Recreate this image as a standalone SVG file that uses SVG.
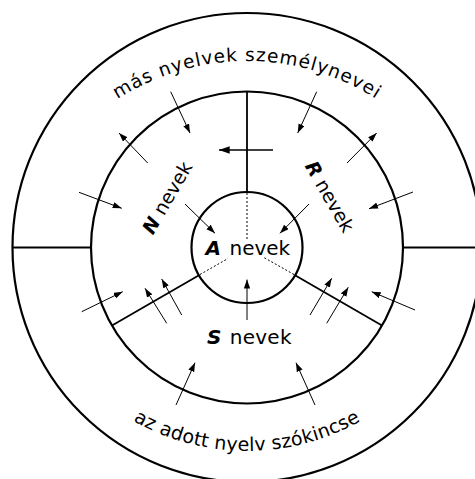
<svg xmlns="http://www.w3.org/2000/svg" width="475" height="479" viewBox="0 0 475 479">
<style>
.ring{fill:none;stroke:#000;stroke-width:2.2}
.div{stroke:#000;stroke-width:1.8;fill:none}
.dot{stroke:#000;stroke-width:1;stroke-dasharray:2,2;fill:none}
.arr{stroke:#000;stroke-width:1;fill:none;marker-end:url(#ah)}
.arrb{stroke:#000;stroke-width:1.3;fill:none;marker-end:url(#ahb)}
text{font-family:"DejaVu Sans","Liberation Sans",sans-serif;fill:#000}
.bi{font-weight:bold;font-style:italic}
</style>
<defs>
<marker id="ah" viewBox="0 0 10 7" refX="10" refY="3.5" markerWidth="9" markerHeight="6.5" markerUnits="userSpaceOnUse" orient="auto"><path d="M0,0 L10,3.5 L0,7 z" fill="#000"/></marker>
<marker id="ahb" viewBox="0 0 10 7" refX="10" refY="3.5" markerWidth="11" markerHeight="7.5" markerUnits="userSpaceOnUse" orient="auto"><path d="M0,0 L10,3.5 L0,7 z" fill="#000"/></marker>
<path id="topArc" d="M8,300 A239,239 0 0 1 486,300"/>
<path id="botArc" d="M17,221 A230,230 0 0 0 477,221"/>
</defs>
<rect width="475" height="479" fill="#fff"/>
<g id="outer-ring">
<circle class="ring" cx="247" cy="247.5" r="234.5"/>
<text font-size="18.5" letter-spacing="1"><textPath href="#topArc" startOffset="50%" text-anchor="middle">más nyelvek személynevei</textPath></text>
<text font-size="19" letter-spacing="0.2"><textPath href="#botArc" startOffset="50%" text-anchor="middle">az adott nyelv szókincse</textPath></text>
</g>
<g id="middle-ring">
<circle class="ring" cx="247" cy="247.5" r="156" stroke-width="2.5"/>
<text font-size="19" text-anchor="middle" transform="translate(173,201) rotate(-60)"><tspan class="bi">N</tspan> nevek</text>
<text font-size="19" text-anchor="middle" transform="translate(324,200) rotate(60)"><tspan class="bi">R</tspan> nevek</text>
<text font-size="20"><tspan class="bi" x="207" y="344">S</tspan><tspan x="223" y="344" letter-spacing="0.3"> nevek</tspan></text>
</g>
<g id="inner-circle">
<circle class="ring" cx="247" cy="247.5" r="55.5" stroke-width="2.5"/>
<text font-size="20"><tspan class="bi" x="205.5" y="254.5">A</tspan><tspan x="229.5" y="254.5">nevek</tspan></text>
</g>
<g id="connectors">
<line class="div" x1="12.5" y1="247.5" x2="91" y2="247.5"/>
<line class="div" x1="403" y1="247.5" x2="475" y2="247.5"/>
<line class="div" x1="247" y1="91.5" x2="247" y2="192"/>
<line class="div" x1="199" y1="275.2" x2="112" y2="325.5"/>
<line class="div" x1="295" y1="275.2" x2="382" y2="325.5"/>
<line class="dot" x1="247" y1="193" x2="247" y2="240"/>
<line class="dot" x1="200" y1="274.5" x2="228" y2="258.5"/>
<line class="dot" x1="294" y1="274.5" x2="263" y2="257"/>
<line class="arr" x1="170.7" y1="91.7" x2="190" y2="133"/>
<line class="arr" x1="316.7" y1="91.7" x2="297.7" y2="133"/>
<line class="arr" x1="147.7" y1="163" x2="119" y2="133"/>
<line class="arr" x1="347" y1="163" x2="376.7" y2="133"/>
<line class="arrb" x1="273" y1="150" x2="219" y2="150"/>
<line class="arr" x1="79" y1="192.3" x2="121.7" y2="208.3"/>
<line class="arr" x1="413" y1="192" x2="369" y2="208.7"/>
<line class="arr" x1="185" y1="204" x2="215" y2="233.3"/>
<line class="arr" x1="309" y1="204" x2="280" y2="233.3"/>
<line class="arr" x1="247" y1="320" x2="247" y2="279.5"/>
<line class="arr" x1="81.7" y1="311.7" x2="122.7" y2="291.7"/>
<line class="arr" x1="166.7" y1="323.3" x2="145" y2="288.3"/>
<line class="arr" x1="181.7" y1="315" x2="161.7" y2="279"/>
<line class="arr" x1="310" y1="315" x2="331.7" y2="278.3"/>
<line class="arr" x1="326.7" y1="323.3" x2="348.3" y2="287.3"/>
<line class="arr" x1="415" y1="310" x2="371.7" y2="291.7"/>
<line class="arr" x1="176" y1="405" x2="195" y2="362.7"/>
<line class="arr" x1="315" y1="405" x2="296" y2="362.7"/>
</g>
</svg>
